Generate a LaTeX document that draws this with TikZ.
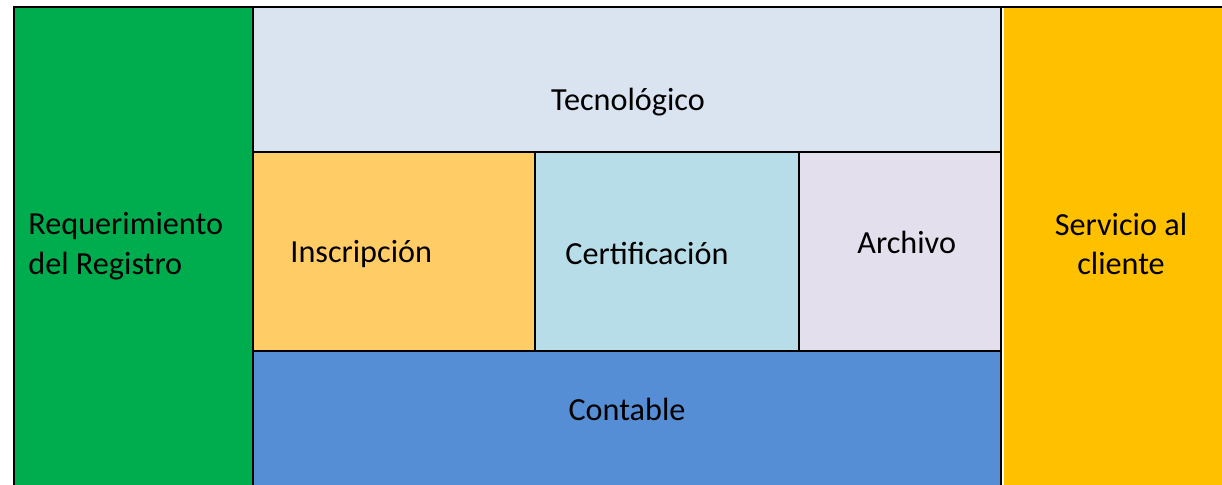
\documentclass[tikz,border=0pt]{standalone}
\usepackage{fontspec}
\setmainfont{Carlito}

\definecolor{regcolor}{RGB}{0,173,78}
\definecolor{teccolor}{RGB}{218,227,240}
\definecolor{inscolor}{RGB}{255,204,102}
\definecolor{certcolor}{RGB}{183,221,232}
\definecolor{archcolor}{RGB}{228,223,236}
\definecolor{contcolor}{RGB}{85,142,213}
\definecolor{servcolor}{RGB}{255,192,0}

\begin{document}
\begin{tikzpicture}[x=0.5pt,y=-0.5pt,
  celltext/.style={inner sep=0pt,font=\fontsize{16.1}{19.8}\selectfont},
  rule/.style={line width=1.05pt}]
\useasboundingbox (0,0) rectangle (1222,485);

% cells
\fill[regcolor] (14,7) rectangle (253,485);
\fill[teccolor] (253,7) rectangle (1001,152);
\fill[inscolor] (253,152) rectangle (535,351);
\fill[certcolor] (535,152) rectangle (799,351);
\fill[archcolor] (799,152) rectangle (1001,351);
\fill[contcolor] (253,351) rectangle (1001,485);
\fill[servcolor] (1004,7) rectangle (1222,485);

% borders
\draw[rule] (1222,7) -- (14,7) -- (14,485);
\draw[rule] (253,7) -- (253,485);
\draw[rule] (1001,7) -- (1001,485);
\draw[rule] (253,152) -- (1001,152);
\draw[rule] (253,351) -- (1001,351);
\draw[rule] (535,152) -- (535,351);
\draw[rule] (799,152) -- (799,351);

% texts
\node[celltext,anchor=base] (tec) at (628,111) {Tecnológico};
\node[celltext,anchor=base west] (ins) at (290,263) {Inscripción};
\node[celltext,anchor=base west] (cert) at (565,265) {Certificación};
\node[celltext,anchor=base west] (arch) at (857,254) {Archivo};
\node[celltext,anchor=base] (cont) at (627,421) {Contable};
\node[celltext,anchor=west,align=left] (req) at (28,246) {Requerimiento\\del Registro};
\node[celltext,align=center] (serv) at (1121,244) {Servicio al\\cliente};

\end{tikzpicture}
\end{document}
